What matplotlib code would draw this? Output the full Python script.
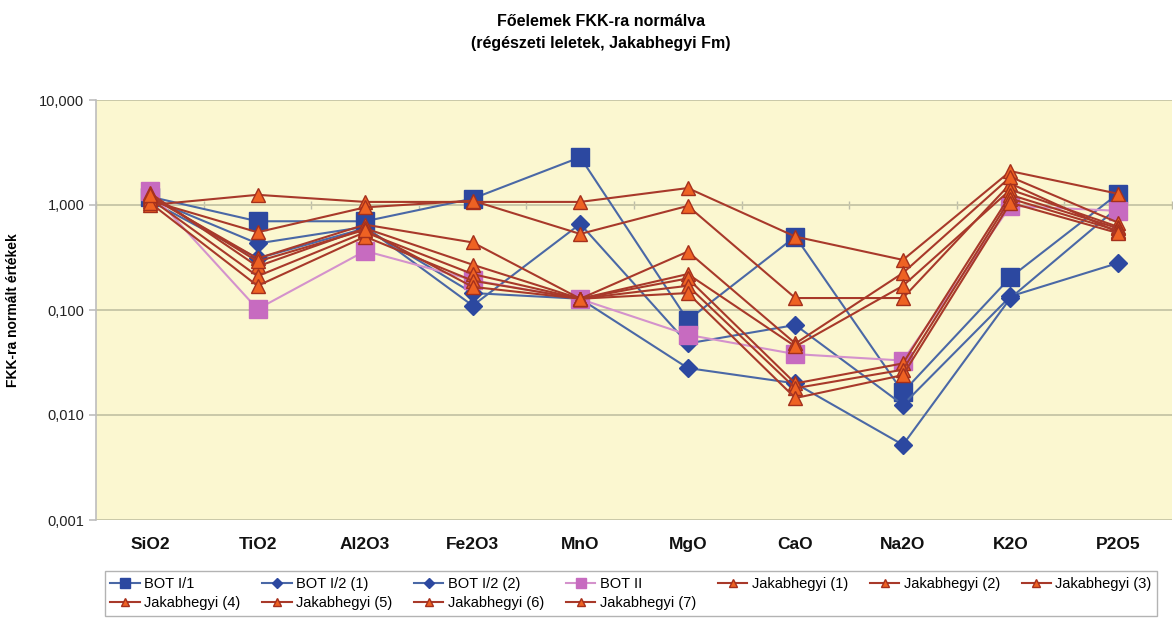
import numpy as np
import matplotlib
matplotlib.use("Agg")
import matplotlib.pyplot as plt
from matplotlib.ticker import FixedLocator, FuncFormatter

plt.rcParams['font.family'] = ['Liberation Sans', 'DejaVu Sans']

oxides = ["SiO2", "TiO2", "Al2O3", "Fe2O3", "MnO", "MgO", "CaO", "Na2O", "K2O", "P2O5"]

# FKK-normalised main element values
bot_i1 = [1.20, 0.70, 0.70, 1.15, 2.85, 0.080, 0.50, 0.0165, 0.205, 1.28]
bot_i2_1 = [1.15, 0.43, 0.62, 0.110, 0.66, 0.048, 0.072, 0.0125, 0.135, 0.28]
bot_i2_2 = [1.10, 0.31, 0.60, 0.145, 0.128, 0.028, 0.020, 0.0052, 0.130, 0.95]
bot_ii = [1.35, 0.102, 0.365, 0.193, 0.127, 0.058, 0.038, 0.033, 0.98, 0.88]

jak_1 = [1.00, 1.25, 1.07, 1.07, 1.07, 1.45, 0.50, 0.30, 2.10, 1.28]
jak_2 = [1.10, 0.55, 0.95, 1.10, 0.53, 0.98, 0.130, 0.130, 1.60, 0.55]
jak_3 = [1.20, 0.31, 0.65, 0.44, 0.128, 0.36, 0.048, 0.225, 1.85, 0.68]
jak_4 = [1.30, 0.26, 0.60, 0.27, 0.128, 0.22, 0.045, 0.170, 1.40, 0.62]
jak_5 = [1.15, 0.21, 0.55, 0.22, 0.128, 0.20, 0.020, 0.031, 1.25, 0.60]
jak_6 = [1.05, 0.17, 0.50, 0.19, 0.128, 0.17, 0.018, 0.027, 1.15, 0.57]
jak_7 = [1.25, 0.29, 0.58, 0.166, 0.128, 0.145, 0.0145, 0.024, 1.05, 0.54]

jak_series = [jak_1, jak_2, jak_3, jak_4, jak_5, jak_6, jak_7]

navy = '#2C48A0'
blue_line = '#4A68A6'
pink = '#C76BC0'
pink_line = '#D492CC'
tri_fill = '#EE6223'
tri_edge = '#A5301C'
tri_line = '#A8392A'

fig = plt.figure(figsize=(11.73, 6.25), dpi=100, facecolor='w')
ax = fig.add_axes([0.082, 0.168, 0.917, 0.672])
ax.set_facecolor('#FBF7D0')

x = np.arange(len(oxides))

lines = {}
lines["BOT I/1"], = ax.plot(x, bot_i1, '-s', color=blue_line, lw=1.5, ms=13,
                            mfc=navy, mec=navy, label="BOT I/1")
lines["BOT I/2 (1)"], = ax.plot(x, bot_i2_1, '-D', color=blue_line, lw=1.5, ms=9,
                                mfc=navy, mec=navy, label="BOT I/2 (1)")
lines["BOT I/2 (2)"], = ax.plot(x, bot_i2_2, '-D', color=blue_line, lw=1.5, ms=9,
                                mfc=navy, mec=navy, label="BOT I/2 (2)")
lines["BOT II"], = ax.plot(x, bot_ii, '-s', color=pink_line, lw=1.5, ms=13,
                           mfc=pink, mec=pink, label="BOT II")
for i, vals in enumerate(jak_series):
    name = "Jakabhegyi ({})".format(i + 1)
    lines[name], = ax.plot(x, vals, '-^', color=tri_line, lw=1.5, ms=10,
                           mfc=tri_fill, mec=tri_edge, mew=1.0, label=name)

ax.set_yscale('log')
ax.set_ylim(0.001, 10)
ax.set_xlim(-0.5, len(oxides) - 0.5)
ax.yaxis.set_major_locator(FixedLocator([0.001, 0.01, 0.1, 1, 10]))
ax.yaxis.set_minor_locator(FixedLocator([]))
ax.yaxis.set_major_formatter(FuncFormatter(lambda v, p: "{:.3f}".format(v).replace('.', ',')))
ax.grid(True, axis='y', color='#C9C8A8', lw=1.4)
ax.set_axisbelow(True)

for s in ['top', 'right', 'bottom']:
    ax.spines[s].set_visible(False)
ax.spines['left'].set_color('#BDBDBD')
ax.spines['left'].set_linewidth(1.2)
ax.tick_params(axis='y', colors='#BDBDBD', labelcolor='#222222', labelsize=10.5,
               length=5, width=1.2)

ax.set_xticks(x)
ax.set_xticklabels(oxides, fontsize=12.5, fontweight='bold', color='#111111')
ax.tick_params(axis='x', length=0, pad=12)

# category axis crosses the value axis at 1,000
cat_axis = ax.secondary_xaxis(0.75)
cat_axis.set_xticks(np.arange(len(oxides) + 1) - 0.5)
cat_axis.tick_params(axis='x', direction='inout', length=6, width=1, colors='#BDBDAA',
                     labelbottom=False, labeltop=False)
cat_axis.spines['bottom'].set_visible(False)
cat_axis.spines['top'].set_visible(False)

ax.set_ylabel("FKK-ra normált értékek", fontsize=10, fontweight='bold', labelpad=14)

fig.text(0.512, 0.978, "Főelemek FKK-ra normálva\n(régészeti leletek, Jakabhegyi Fm)",
         ha='center', va='top', fontsize=11.5, fontweight='bold', linespacing=1.6)

order = ["BOT I/1", "Jakabhegyi (4)", "BOT I/2 (1)", "Jakabhegyi (5)",
         "BOT I/2 (2)", "Jakabhegyi (6)", "BOT II", "Jakabhegyi (7)",
         "Jakabhegyi (1)", "Jakabhegyi (2)", "Jakabhegyi (3)"]
leg = fig.legend([lines[k] for k in order], order, ncol=7, loc='lower left',
                 bbox_to_anchor=(0.083, 0.003, 0.91, 0.09), mode='expand',
                 fontsize=10.5, frameon=True, fancybox=False, edgecolor='#A0A0A0',
                 handlelength=2.0, handletextpad=0.3, columnspacing=0.6,
                 borderpad=0.4, labelspacing=0.35, markerscale=0.6)
leg.get_frame().set_linewidth(1.0)

fig.savefig("out.png", dpi=100, facecolor='w')
